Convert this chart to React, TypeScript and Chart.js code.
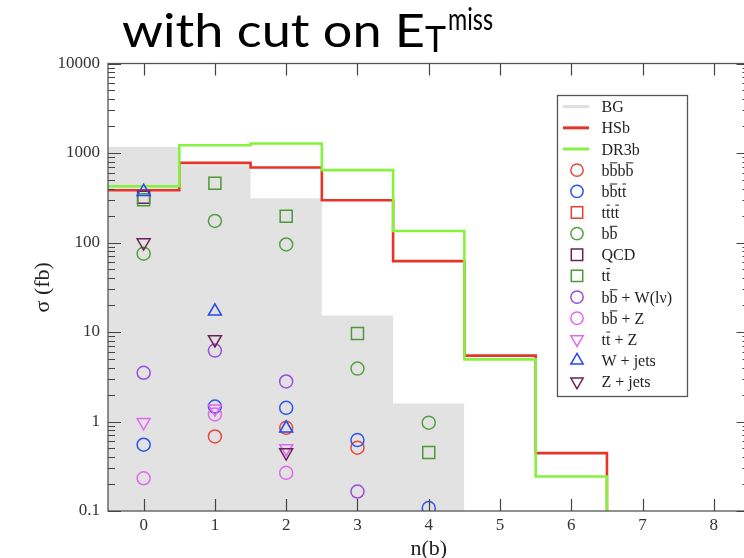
import React, { useEffect, useRef } from 'react';
import { Chart, registerables } from 'chart.js';
import { drawPoint } from 'chart.js/helpers';

Chart.register(...registerables);

// ---------- data ----------
const X_TICKS = [0, 1, 2, 3, 4, 5, 6, 7, 8];
const Y_TICKS = [0.1, 1, 10, 100, 1000, 10000];
const Y_TICK_LABELS = ['0.1', '1', '10', '100', '1000', '10000'];
const BINS = [0, 1, 2, 3, 4];

// histogram bins start at n(b)=0
const BG = [1170, 730, 312, 15.3, 1.59];
const HSB = [384, 775, 689, 297, 62, 5.45, 0.443];
const DR3B = [425, 1222, 1277, 643, 134.5, 4.95, 0.243];

// markers per bin n(b) = 0..4 (null = not shown)
const BBBB = [null, 0.68, 0.85, 0.51, null];
const BBTT = [0.55, 1.47, 1.42, 0.62, 0.108];
const TTTT: (number | null)[] = [null, null, null, null, null];
const BB = [75, 174, 95, 3.9, 0.97];
const QCD = [320, null, null, null, null];
const TT = [300, 460, 196, 9.6, 0.45];
const BBW = [3.5, 6.2, 2.8, 0.165, null];
const BBZ = [0.232, 1.2, 0.267, null, null];
const TTZ = [0.98, 1.39, 0.5, null, null];
const WJETS = [370, 17, 0.84, null, null];
const ZJETS = [100, 8.26, 0.45, null, null];

const FLOOR = 1e-3;

// ---------- styles ----------
const SERIF = '"Liberation Serif", "Times New Roman", serif';
const TITLE_FONT = 'Lato, "Open Sans", sans-serif';

type Marker = { label: string; data: (number | null)[]; color: string; style: string; rot: number; r: number };
const MARKERS: Marker[] = [
  { label: 'b{b}b{b}', data: BBBB, color: '#e8483c', style: 'circle', rot: 0, r: 6.5 },
  { label: 'b{b}t{t}', data: BBTT, color: '#2a55f0', style: 'circle', rot: 0, r: 6.5 },
  { label: 't{t}t{t}', data: TTTT, color: '#e8402f', style: 'rect', rot: 0, r: 8.5 },
  { label: 'b{b}', data: BB, color: '#55a040', style: 'circle', rot: 0, r: 6.5 },
  { label: 'QCD', data: QCD, color: '#6a2255', style: 'rect', rot: 0, r: 8.5 },
  { label: 't{t}', data: TT, color: '#4a9a35', style: 'rect', rot: 0, r: 8.5 },
  { label: 'b{b} + W(lν)', data: BBW, color: '#9b4ddc', style: 'circle', rot: 0, r: 6.5 },
  { label: 'b{b} + Z', data: BBZ, color: '#e466f0', style: 'circle', rot: 0, r: 6.5 },
  { label: 't{t} + Z', data: TTZ, color: '#e466f0', style: 'triangle', rot: 180, r: 7.5 },
  { label: 'W + jets', data: WJETS, color: '#2248f0', style: 'triangle', rot: 0, r: 7.5 },
  { label: 'Z + jets', data: ZJETS, color: '#6a2255', style: 'triangle', rot: 180, r: 7.5 },
];

const LINES = [
  { label: 'BG', data: BG, color: '#dedede', fill: '#e2e2e2', width: 0 },
  { label: 'HSb', data: HSB, color: '#e6342a', fill: null, width: 2.6 },
  { label: 'DR3b', data: DR3B, color: '#84f23e', fill: null, width: 2.6 },
];

function steps(vals: number[]) {
  const pts = vals.map((v, i) => ({ x: i - 0.5, y: v }));
  pts.push({ x: vals.length - 0.5, y: FLOOR });
  return pts;
}

function markerPoints(vals: (number | null)[]) {
  const pts: { x: number; y: number }[] = [];
  vals.forEach((v, i) => {
    if (v !== null) pts.push({ x: BINS[i], y: v });
  });
  return pts;
}

function drawRichText(ctx: CanvasRenderingContext2D, text: string, x: number, yBase: number, size: number) {
  const parts = text.split(/(\{[^}]*\})/).filter((p) => p.length > 0);
  let cx = x;
  for (const p of parts) {
    const over = p.startsWith('{');
    const t = over ? p.slice(1, -1) : p;
    const w = ctx.measureText(t).width;
    ctx.fillText(t, cx, yBase);
    if (over) {
      ctx.beginPath();
      ctx.lineWidth = 1;
      ctx.moveTo(cx + 0.5, yBase - size * 0.8);
      ctx.lineTo(cx + w - 0.3, yBase - size * 0.8);
      ctx.stroke();
    }
    cx += w;
  }
}

// draw text so that it spans a given width (horizontal squeeze/stretch)
function fitText(ctx: CanvasRenderingContext2D, text: string, x: number, y: number, width: number) {
  const w = ctx.measureText(text).width;
  ctx.save();
  ctx.translate(x, y);
  ctx.scale(width / w, 1);
  ctx.fillText(text, 0, 0);
  ctx.restore();
}

const framePlugin = {
  id: 'frameDecor',
  afterDatasetsDraw(chart: any) {
    const { ctx, chartArea } = chart;
    const { left, right, top, bottom } = chartArea;
    const xs = chart.scales.x;
    const ys = chart.scales.y;
    ctx.save();
    ctx.strokeStyle = '#555';
    ctx.lineWidth = 1.3;
    ctx.strokeRect(left, top, right - left, bottom - top);
    ctx.strokeStyle = '#444';
    ctx.lineWidth = 1.2;
    ctx.beginPath();
    for (const v of X_TICKS) {
      const px = Math.round(xs.getPixelForValue(v)) + 0.5;
      ctx.moveTo(px, bottom);
      ctx.lineTo(px, bottom - 12);
      ctx.moveTo(px, top);
      ctx.lineTo(px, top + 12);
    }
    for (const v of Y_TICKS) {
      const py = Math.round(ys.getPixelForValue(v)) + 0.5;
      ctx.moveTo(left, py);
      ctx.lineTo(left + 13, py);
      ctx.moveTo(right, py);
      ctx.lineTo(right - 13, py);
    }
    for (let d = 0; d < Y_TICKS.length - 1; d++) {
      for (let k = 2; k <= 9; k++) {
        const py = Math.round(ys.getPixelForValue(Y_TICKS[d] * k)) + 0.5;
        ctx.moveTo(left, py);
        ctx.lineTo(left + 7, py);
        ctx.moveTo(right, py);
        ctx.lineTo(right - 7, py);
      }
    }
    ctx.stroke();
    ctx.restore();
  },
  afterDraw(chart: any) {
    const { ctx, chartArea } = chart;
    ctx.save();

    // main title
    ctx.fillStyle = '#000';
    ctx.textBaseline = 'alphabetic';
    ctx.textAlign = 'left';
    ctx.font = `46px ${TITLE_FONT}`;
    fitText(ctx, 'with cut on E', 122, 47, 303);
    ctx.font = `36px ${TITLE_FONT}`;
    fitText(ctx, 'T', 425, 52, 21);
    ctx.font = `31px ${TITLE_FONT}`;
    fitText(ctx, 'miss', 448, 30, 45);

    // axis titles
    ctx.fillStyle = '#222';
    ctx.font = `22px ${SERIF}`;
    ctx.textAlign = 'center';
    ctx.textBaseline = 'middle';
    ctx.fillText('n(b)', (chartArea.left + chartArea.right) / 2, 549);
    ctx.save();
    ctx.translate(43, (chartArea.top + chartArea.bottom) / 2);
    ctx.rotate(-Math.PI / 2);
    ctx.fillText('σ (fb)', 0, 0);
    ctx.restore();

    // legend
    const bx = 557, by = 95, bw = 130, bh = 301;
    ctx.fillStyle = '#fff';
    ctx.fillRect(bx, by, bw, bh);
    ctx.strokeStyle = '#555';
    ctx.lineWidth = 1.3;
    ctx.strokeRect(bx + 0.5, by + 0.5, bw, bh);
    const rowH = 21.15;
    const y0 = 106.7;
    const textX = 601.5;
    ctx.font = `16px ${SERIF}`;
    ctx.textAlign = 'left';
    ctx.textBaseline = 'alphabetic';
    let row = 0;
    for (const l of LINES) {
      const y = y0 + row * rowH;
      ctx.strokeStyle = l.color;
      ctx.lineWidth = 3;
      ctx.beginPath();
      ctx.moveTo(563, y);
      ctx.lineTo(589, y);
      ctx.stroke();
      ctx.fillStyle = '#222';
      ctx.strokeStyle = '#222';
      drawRichText(ctx, l.label, textX, y + 5.5, 16);
      row++;
    }
    for (const m of MARKERS) {
      const y = y0 + row * rowH;
      ctx.strokeStyle = m.color;
      ctx.fillStyle = 'rgba(0,0,0,0)';
      ctx.lineWidth = 1.5;
      drawPoint(ctx, { pointStyle: m.style as any, rotation: m.rot, radius: m.r * 0.95, borderWidth: 1.5 }, 577, y);
      ctx.fillStyle = '#222';
      ctx.strokeStyle = '#222';
      drawRichText(ctx, m.label, textX, y + 5.5, 16);
      row++;
    }
    ctx.restore();
  },
};

export default function App() {
  const ref = useRef<HTMLCanvasElement | null>(null);
  useEffect(() => {
    if (!ref.current) return;
    const datasets: any[] = [];
    LINES.forEach((l, i) => {
      datasets.push({
        type: 'line',
        label: l.label,
        data: steps(l.data),
        stepped: true,
        borderColor: l.width > 0 ? l.color : 'rgba(0,0,0,0)',
        borderWidth: l.width,
        backgroundColor: l.fill || 'rgba(0,0,0,0)',
        fill: l.fill ? 'start' : false,
        pointRadius: 0,
        order: 100 - i,
      });
    });
    MARKERS.forEach((m, i) => {
      datasets.push({
        type: 'scatter',
        label: m.label,
        data: markerPoints(m.data),
        showLine: false,
        pointStyle: m.style,
        pointRotation: m.rot,
        pointRadius: m.r,
        pointBorderWidth: 1.5,
        pointBorderColor: m.color,
        pointBackgroundColor: 'rgba(0,0,0,0)',
        order: 50 - i,
      });
    });
    const tickFont = { family: SERIF, size: 17 };
    const chart = new Chart(ref.current, {
      type: 'scatter',
      data: { datasets },
      options: {
        responsive: false,
        devicePixelRatio: 1,
        animation: false,
        events: [],
        layout: { padding: { top: 63.5, right: 10.5, left: 0, bottom: 0 } },
        plugins: { legend: { display: false }, tooltip: { enabled: false }, title: { display: false } },
        scales: {
          x: {
            type: 'linear',
            min: -0.5,
            max: 8.5,
            afterBuildTicks: (s: any) => {
              s.ticks = X_TICKS.map((v) => ({ value: v }));
            },
            afterFit: (s: any) => {
              s.height = 47;
            },
            grid: { display: false, drawTicks: false },
            border: { display: false },
            ticks: { padding: 4, color: '#333', font: tickFont, maxRotation: 0, autoSkip: false, callback: (v: any) => String(v) },
          },
          y: {
            type: 'logarithmic',
            min: 0.1,
            max: 10000,
            afterBuildTicks: (s: any) => {
              s.ticks = Y_TICKS.map((v) => ({ value: v, major: true }));
            },
            afterFit: (s: any) => {
              s.width = 108;
            },
            grid: { display: false, drawTicks: false },
            border: { display: false },
            ticks: { padding: 8, color: '#333', font: tickFont, autoSkip: false, callback: (_v: any, i: number) => Y_TICK_LABELS[i] },
          },
        },
      },
      plugins: [framePlugin],
    } as any);
    return () => chart.destroy();
  }, []);
  return (
    <div style={{ position: 'absolute', left: 0, top: 0, width: 744, height: 558, overflow: 'hidden', background: '#fff' }}>
      <canvas ref={ref} width={760} height={558} style={{ display: 'block', width: 760, height: 558 }} />
    </div>
  );
}
